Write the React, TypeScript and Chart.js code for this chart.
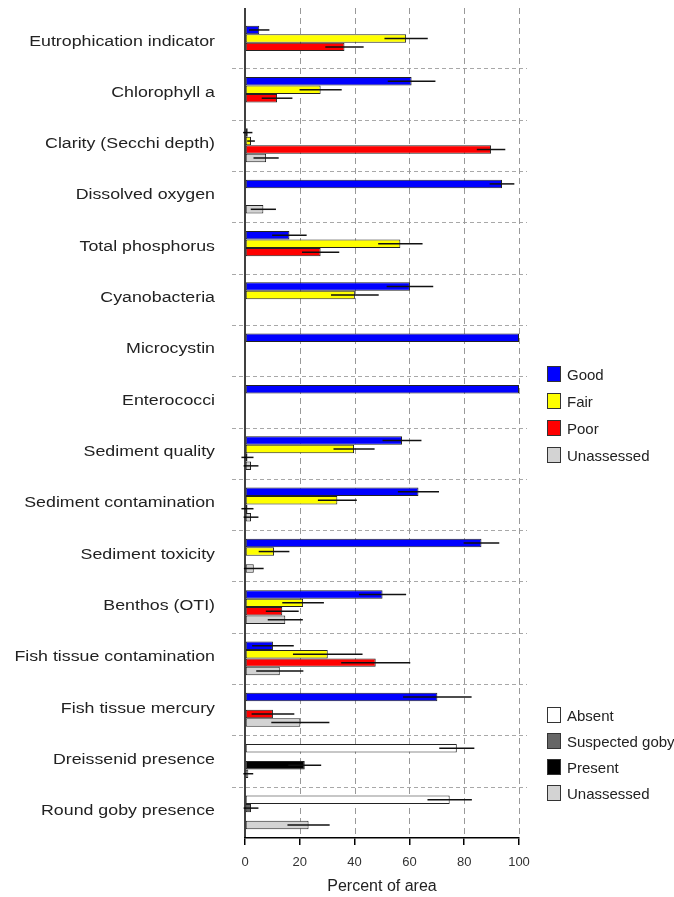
import React, { useEffect, useRef } from "react";
import { Chart, registerables } from "chart.js";

Chart.register(...registerables);

const categories = [
  "Eutrophication indicator",
  "Chlorophyll a",
  "Clarity (Secchi depth)",
  "Dissolved oxygen",
  "Total phosphorus",
  "Cyanobacteria",
  "Microcystin",
  "Enterococci",
  "Sediment quality",
  "Sediment contamination",
  "Sediment toxicity",
  "Benthos (OTI)",
  "Fish tissue contamination",
  "Fish tissue mercury",
  "Dreissenid presence",
  "Round goby presence",
];

// Condition indicators (first 14 categories)
const good = [5.2, 60.8, 1.0, 93.8, 16.2, 60.2, 100, 100, 57.3, 63.3, 86.3, 50.2, 10.2, 70.2];
const goodErr = [3.7, 8.7, 1.7, 4.5, 6.3, 8.5, 0, 0, 7.1, 7.5, 6.5, 8.6, 7.6, 12.5];
const fair = [58.8, 27.6, 2.2, null, 56.7, 40.1, null, null, 39.8, 33.7, 10.6, 21.2, 30.2, null];
const fairErr = [7.9, 7.7, 1.4, 0, 8.1, 8.7, 0, 0, 7.5, 7.1, 5.6, 7.6, 12.7, 0];
const poor = [36.3, 11.7, 89.8, null, 27.6, null, null, null, 0.9, 0.9, null, 13.6, 47.7, 10.2];
const poorErr = [7.0, 5.6, 5.2, 0, 6.8, 0, 0, 0, 2.2, 2.2, 0, 6.0, 12.6, 7.8];
const unassessed = [null, null, 7.7, 6.7, null, null, null, null, 2.2, 2.2, 3.2, 14.7, 12.7, 20.2];
const unassessedErr = [0, 0, 4.6, 4.6, 0, 0, 0, 0, 2.7, 2.7, 3.6, 6.4, 8.6, 10.6];

// Presence indicators (last 2 categories)
const absent = [77.3, 74.7];
const absentErr = [6.4, 8.1];
const suspected = [null, 2.2];
const suspectedErr = [0, 2.7];
const present = [21.8, null];
const presentErr = [6.0, 0];
const gobyUnassessed = [1.2, 23.2];
const gobyUnassessedErr = [1.8, 7.7];

const xTicks = [0, 20, 40, 60, 80, 100];

const conditionLegend = ["Good", "Fair", "Poor", "Unassessed"];
const conditionColors = ["#0000ff", "#ffff00", "#ff0000", "#d3d3d3"];
const presenceLegend = ["Absent", "Suspected goby", "Present", "Unassessed"];
const presenceColors = ["#ffffff", "#666666", "#000000", "#d3d3d3"];

const nCond = good.length;

const slotData = [
  { values: [...good, ...absent], errs: [...goodErr, ...absentErr] },
  { values: [...fair, ...suspected], errs: [...fairErr, ...suspectedErr] },
  { values: [...poor, ...present], errs: [...poorErr, ...presentErr] },
  { values: [...unassessed, ...gobyUnassessed], errs: [...unassessedErr, ...gobyUnassessedErr] },
];

const LEFT = 245;
const RIGHT = 519;
const TOP = 17;
const BOTTOM = 838;
const W = 674;
const H = 897;

const decorPlugin = {
  id: "decor",
  beforeDatasetsDraw(chart: any) {
    const { ctx, chartArea, scales } = chart;
    const x = scales.x;
    const y = scales.y;
    ctx.save();
    // horizontal separators between categories
    ctx.strokeStyle = "#a8a8a8";
    ctx.lineWidth = 1;
    ctx.setLineDash([4, 3]);
    for (let i = 1; i < categories.length; i++) {
      const yy = Math.round((y.getPixelForValue(i - 1) + y.getPixelForValue(i)) / 2) + 0.5;
      ctx.beginPath();
      ctx.moveTo(chartArea.left - 13, yy);
      ctx.lineTo(chartArea.right + 8, yy);
      ctx.stroke();
    }
    // vertical dashed grid
    ctx.strokeStyle = "#999999";
    ctx.setLineDash([6, 4]);
    for (const t of xTicks) {
      if (t === 0) continue;
      const xx = Math.round(x.getPixelForValue(t)) + 0.5;
      ctx.beginPath();
      ctx.moveTo(xx, chartArea.top - 9);
      ctx.lineTo(xx, chartArea.bottom);
      ctx.stroke();
    }
    ctx.restore();
  },
  afterDatasetsDraw(chart: any) {
    const { ctx, chartArea, scales } = chart;
    const x = scales.x;
    ctx.save();
    // error bars
    ctx.strokeStyle = "#111111";
    ctx.lineWidth = 1.5;
    ctx.setLineDash([]);
    chart.data.datasets.forEach((ds: any, di: number) => {
      const meta = chart.getDatasetMeta(di);
      meta.data.forEach((el: any, i: number) => {
        const v = ds.data[i];
        const e = ds.errs[i];
        if (v == null || !e) return;
        const x1 = x.getPixelForValue(v - e);
        const x2 = x.getPixelForValue(v + e);
        ctx.beginPath();
        ctx.moveTo(x1, el.y);
        ctx.lineTo(x2, el.y);
        ctx.stroke();
      });
    });
    // y axis line
    ctx.strokeStyle = "#000";
    ctx.lineWidth = 1.5;
    ctx.beginPath();
    ctx.moveTo(chartArea.left, chartArea.top - 9);
    ctx.lineTo(chartArea.left, chartArea.bottom);
    ctx.stroke();
    ctx.restore();
  },
  afterDraw(chart: any) {
    const { ctx, scales } = chart;
    const y = scales.y;
    ctx.save();
    ctx.font = '14px "Liberation Sans", Arial, sans-serif';
    ctx.fillStyle = "#222";
    ctx.textAlign = "right";
    ctx.textBaseline = "middle";
    categories.forEach((c, i) => {
      const yy = y.getPixelForValue(i) - 1;
      ctx.save();
      ctx.translate(215, yy);
      ctx.scale(1.27, 1);
      ctx.fillText(c, 0, 0);
      ctx.restore();
    });
    ctx.restore();
  },
};

function Legend({ items, colors, top, gap }: { items: string[]; colors: string[]; top: number; gap: number }) {
  return (
    <>
      {items.map((it, i) => (
        <div
          key={it}
          style={{
            position: "absolute",
            left: 547,
            top: top + i * gap - 8,
            height: 16,
            display: "flex",
            alignItems: "center",
            fontFamily: '"Liberation Sans", Arial, sans-serif',
            fontSize: 15,
            color: "#222",
            whiteSpace: "nowrap",
          }}
        >
          <span
            style={{
              display: "inline-block",
              width: 12,
              height: 14,
              background: colors[i],
              border: "1px solid #333",
              marginRight: 6,
            }}
          />
          {it}
        </div>
      ))}
    </>
  );
}

export default function App() {
  const ref = useRef<HTMLCanvasElement>(null);
  useEffect(() => {
    if (!ref.current) return;
    const datasets = slotData.map((s, k) => ({
      label: conditionLegend[k],
      data: s.values,
      errs: s.errs,
      backgroundColor: s.values.map((_, i) => (i < nCond ? conditionColors[k] : presenceColors[k])),
      borderColor: "#222222",
      borderWidth: 1,
      borderSkipped: false,
      categoryPercentage: 0.66,
      barPercentage: 1,
    }));
    const chart = new Chart(ref.current, {
      type: "bar",
      data: { labels: categories, datasets: datasets as any },
      plugins: [decorPlugin],
      options: {
        indexAxis: "y",
        animation: false,
        responsive: false,
        layout: { padding: { top: TOP, right: W - RIGHT, left: 0, bottom: 0 } },
        plugins: { legend: { display: false }, tooltip: { enabled: false } },
        scales: {
          x: {
            type: "linear",
            min: 0,
            max: 100,
            afterBuildTicks: (scale: any) => {
              scale.ticks = xTicks.map((v) => ({ value: v }));
            },
            afterFit: (scale: any) => {
              scale.height = H - BOTTOM;
            },
            ticks: {
              color: "#333",
              font: { family: '"Liberation Sans", Arial, sans-serif', size: 13 },
              padding: 10,
            },
            grid: {
              drawOnChartArea: false,
              drawTicks: true,
              tickLength: 7,
              color: "#000",
              lineWidth: 1.5,
            },
            border: { display: true, color: "#000", width: 1.5 },
            title: {
              display: true,
              text: "Percent of area",
              color: "#222",
              font: { family: '"Liberation Sans", Arial, sans-serif', size: 16 },
              padding: { top: 0, bottom: 1 },
            },
          },
          y: {
            type: "category",
            afterFit: (scale: any) => {
              scale.width = LEFT;
            },
            ticks: { display: false },
            grid: { display: false },
            border: { display: false },
          },
        },
      } as any,
    });
    return () => chart.destroy();
  }, []);

  return (
    <div style={{ position: "fixed", left: 0, top: 0, width: W, height: H, background: "#fff" }}>
      <canvas ref={ref} width={W} height={H} style={{ display: "block" }} />
      <Legend items={conditionLegend} colors={conditionColors} top={374} gap={27} />
      <Legend items={presenceLegend} colors={presenceColors} top={715} gap={26} />
    </div>
  );
}
